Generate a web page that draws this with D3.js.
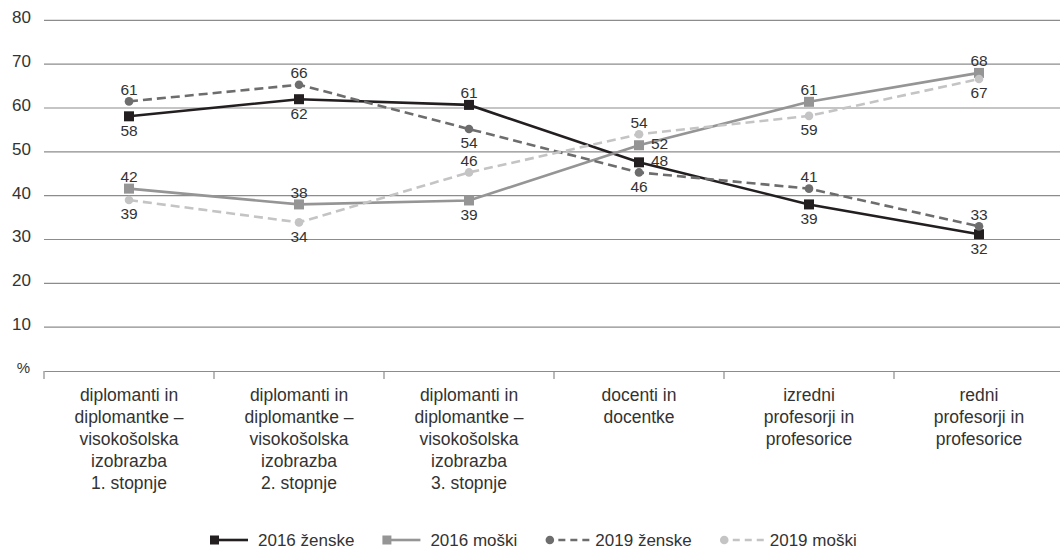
<!DOCTYPE html>
<html>
<head>
<meta charset="utf-8">
<script src="https://cdn.jsdelivr.net/npm/d3@7"></script>
<style>
  body { margin: 0; background: #fff; }
  svg { display: block; font-family: "Liberation Sans", Arial, sans-serif; }
</style>
</head>
<body>
<div id="chart"></div>
<script>

// categories (x axis), each label split in lines
const categories = [
    ["diplomanti in", "diplomantke –", "visokošolska", "izobrazba", "1. stopnje"],
    ["diplomanti in", "diplomantke –", "visokošolska", "izobrazba", "2. stopnje"],
    ["diplomanti in", "diplomantke –", "visokošolska", "izobrazba", "3. stopnje"],
    ["docenti in", "docentke"],
    ["izredni", "profesorji in", "profesorice"],
    ["redni", "profesorji in", "profesorice"]
];

const yTicks = [10, 20, 30, 40, 50, 60, 70, 80];

const seriesNames = ["2016 ženske", "2016 moški", "2019 ženske", "2019 moški"];

// plotted values
const zenske2016 = [58.1, 62.0, 60.7, 47.6, 38.0, 31.2];
const moski2016 = [41.6, 38.0, 38.9, 51.5, 61.4, 68.0];
const zenske2019 = [61.5, 65.3, 55.2, 45.3, 41.6, 33.0];
const moski2019 = [39.0, 33.9, 45.3, 54.0, 58.2, 66.6];

// value labels printed next to the points
const zenske2016Labels = ["58", "62", "61", "48", "39", "32"];
const moski2016Labels = ["42", "38", "39", "52", "61", "68"];
const zenske2019Labels = ["61", "66", "54", "46", "41", "33"];
const moski2019Labels = ["39", "34", "46", "54", "59", "67"];

// where each label sits: a = above, b = below, r = right
const zenske2016Place = ["b", "b", "a", "r", "b", "b"];
const moski2016Place = ["a", "a", "b", "r", "a", "a"];
const zenske2019Place = ["a", "a", "b", "b", "a", "a"];
const moski2019Place = ["b", "b", "a", "a", "b", "b"];

const W = 1060, H = 550;
const plotLeft = 44, plotTop = 20.3, plotBottom = 371;

const series = [
    { name: seriesNames[0], values: zenske2016, labels: zenske2016Labels, place: zenske2016Place, color: "#231f20", dash: null, marker: "square" },
    { name: seriesNames[1], values: moski2016, labels: moski2016Labels, place: moski2016Place, color: "#959595", dash: null, marker: "square" },
    { name: seriesNames[2], values: zenske2019, labels: zenske2019Labels, place: zenske2019Place, color: "#6d6d6d", dash: "9,5", marker: "circle" },
    { name: seriesNames[3], values: moski2019, labels: moski2019Labels, place: moski2019Place, color: "#c4c4c4", dash: "9,5", marker: "circle" }
];

const svg = d3.select("#chart").append("svg")
    .attr("width", W)
    .attr("height", H);

const x = d3.scaleBand()
    .domain(d3.range(categories.length))
    .range([plotLeft, plotLeft + 170 * categories.length]);

const y = d3.scaleLinear()
    .domain([0, 80])
    .range([plotBottom, plotTop]);

// grid lines + y labels
svg.append("g")
    .selectAll("line")
    .data(yTicks)
    .join("line")
    .attr("x1", plotLeft)
    .attr("x2", W)
    .attr("y1", d => y(d))
    .attr("y2", d => y(d))
    .attr("stroke", "#8c8c8c")
    .attr("stroke-width", 1.2);

svg.append("g")
    .selectAll("text")
    .data(yTicks)
    .join("text")
    .attr("x", 31)
    .attr("y", d => y(d) + 3)
    .attr("text-anchor", "end")
    .attr("fill", "#333")
    .style("font-size", "17px")
    .text(d => d);

svg.append("text")
    .attr("x", 30)
    .attr("y", plotBottom + 2)
    .attr("text-anchor", "end")
    .attr("fill", "#333")
    .style("font-size", "15px")
    .text("%");

// bottom axis
const xAxis = svg.append("g")
    .attr("transform", `translate(0,${plotBottom})`)
    .call(d3.axisBottom(x).tickSize(0).tickFormat(""));
xAxis.select(".domain").attr("stroke", "#8c8c8c").attr("stroke-width", 1.2);

svg.append("g")
    .selectAll("line")
    .data(d3.range(categories.length))
    .join("line")
    .attr("x1", d => x(d))
    .attr("x2", d => x(d))
    .attr("y1", plotBottom)
    .attr("y2", plotBottom + 8)
    .attr("stroke", "#8c8c8c")
    .attr("stroke-width", 1.2);

// category labels
const catText = svg.append("g")
    .selectAll("text")
    .data(categories)
    .join("text")
    .attr("text-anchor", "middle")
    .attr("fill", "#333")
    .style("font-size", "17.5px")
    .attr("transform", (d, i) => `translate(${x(i) + x.bandwidth() / 2},${401})`);

catText.selectAll("tspan")
    .data(d => d)
    .join("tspan")
    .attr("x", 0)
    .attr("dy", (d, i) => i === 0 ? 0 : 22)
    .text(d => d);

// lines and markers
const cx = i => x(i) + x.bandwidth() / 2;

const line = d3.line()
    .x((d, i) => cx(i))
    .y(d => y(d));

series.forEach(s => {
    svg.append("path")
        .datum(s.values)
        .attr("fill", "none")
        .attr("stroke", s.color)
        .attr("stroke-width", 2.6)
        .attr("stroke-dasharray", s.dash)
        .attr("d", line);
});

series.forEach(s => {
    const g = svg.append("g");
    if (s.marker === "square") {
        g.selectAll("rect")
            .data(s.values)
            .join("rect")
            .attr("x", (d, i) => cx(i) - 5)
            .attr("y", d => y(d) - 5)
            .attr("width", 10)
            .attr("height", 10)
            .attr("fill", s.color);
    } else {
        g.selectAll("circle")
            .data(s.values)
            .join("circle")
            .attr("cx", (d, i) => cx(i))
            .attr("cy", d => y(d))
            .attr("r", 4.3)
            .attr("fill", s.color);
    }
});

// value labels
series.forEach(s => {
    svg.append("g")
        .selectAll("text")
        .data(s.values)
        .join("text")
        .attr("x", (d, i) => s.place[i] === "r" ? cx(i) + 12 : cx(i))
        .attr("y", (d, i) => {
            if (s.place[i] === "a") return y(d) - 12;
            if (s.place[i] === "b") return y(d) + 14;
            return y(d) - 2;
        })
        .attr("dy", "0.35em")
        .attr("text-anchor", (d, i) => s.place[i] === "r" ? "start" : "middle")
        .attr("fill", "#333")
        .style("font-size", "15.5px")
        .text((d, i) => s.labels[i]);
});

// legend
const legend = svg.append("g");
let lx = 0;
series.forEach(s => {
    const item = legend.append("g").attr("transform", `translate(${lx},0)`);
    let tx;
    if (s.marker === "square") {
        item.append("rect").attr("x", 0).attr("y", -4.5).attr("width", 9).attr("height", 9).attr("fill", s.color);
        item.append("line").attr("x1", 8).attr("x2", 38).attr("y1", 0).attr("y2", 0)
            .attr("stroke", s.color).attr("stroke-width", 2.6);
        tx = 48;
    } else {
        item.append("circle").attr("cx", 4.5).attr("cy", 0).attr("r", 4.3).attr("fill", s.color);
        item.append("line").attr("x1", 13).attr("x2", 45).attr("y1", 0).attr("y2", 0)
            .attr("stroke", s.color).attr("stroke-width", 2.6).attr("stroke-dasharray", "7,5");
        tx = 50;
    }
    const t = item.append("text")
        .attr("x", tx)
        .attr("y", 0)
        .attr("dy", "0.35em")
        .attr("fill", "#333")
        .style("font-size", "17px")
        .text(s.name);
    lx += tx + t.node().getComputedTextLength() + 28;
});
legend.attr("transform", "translate(210,540)");

</script>
</body>
</html>
